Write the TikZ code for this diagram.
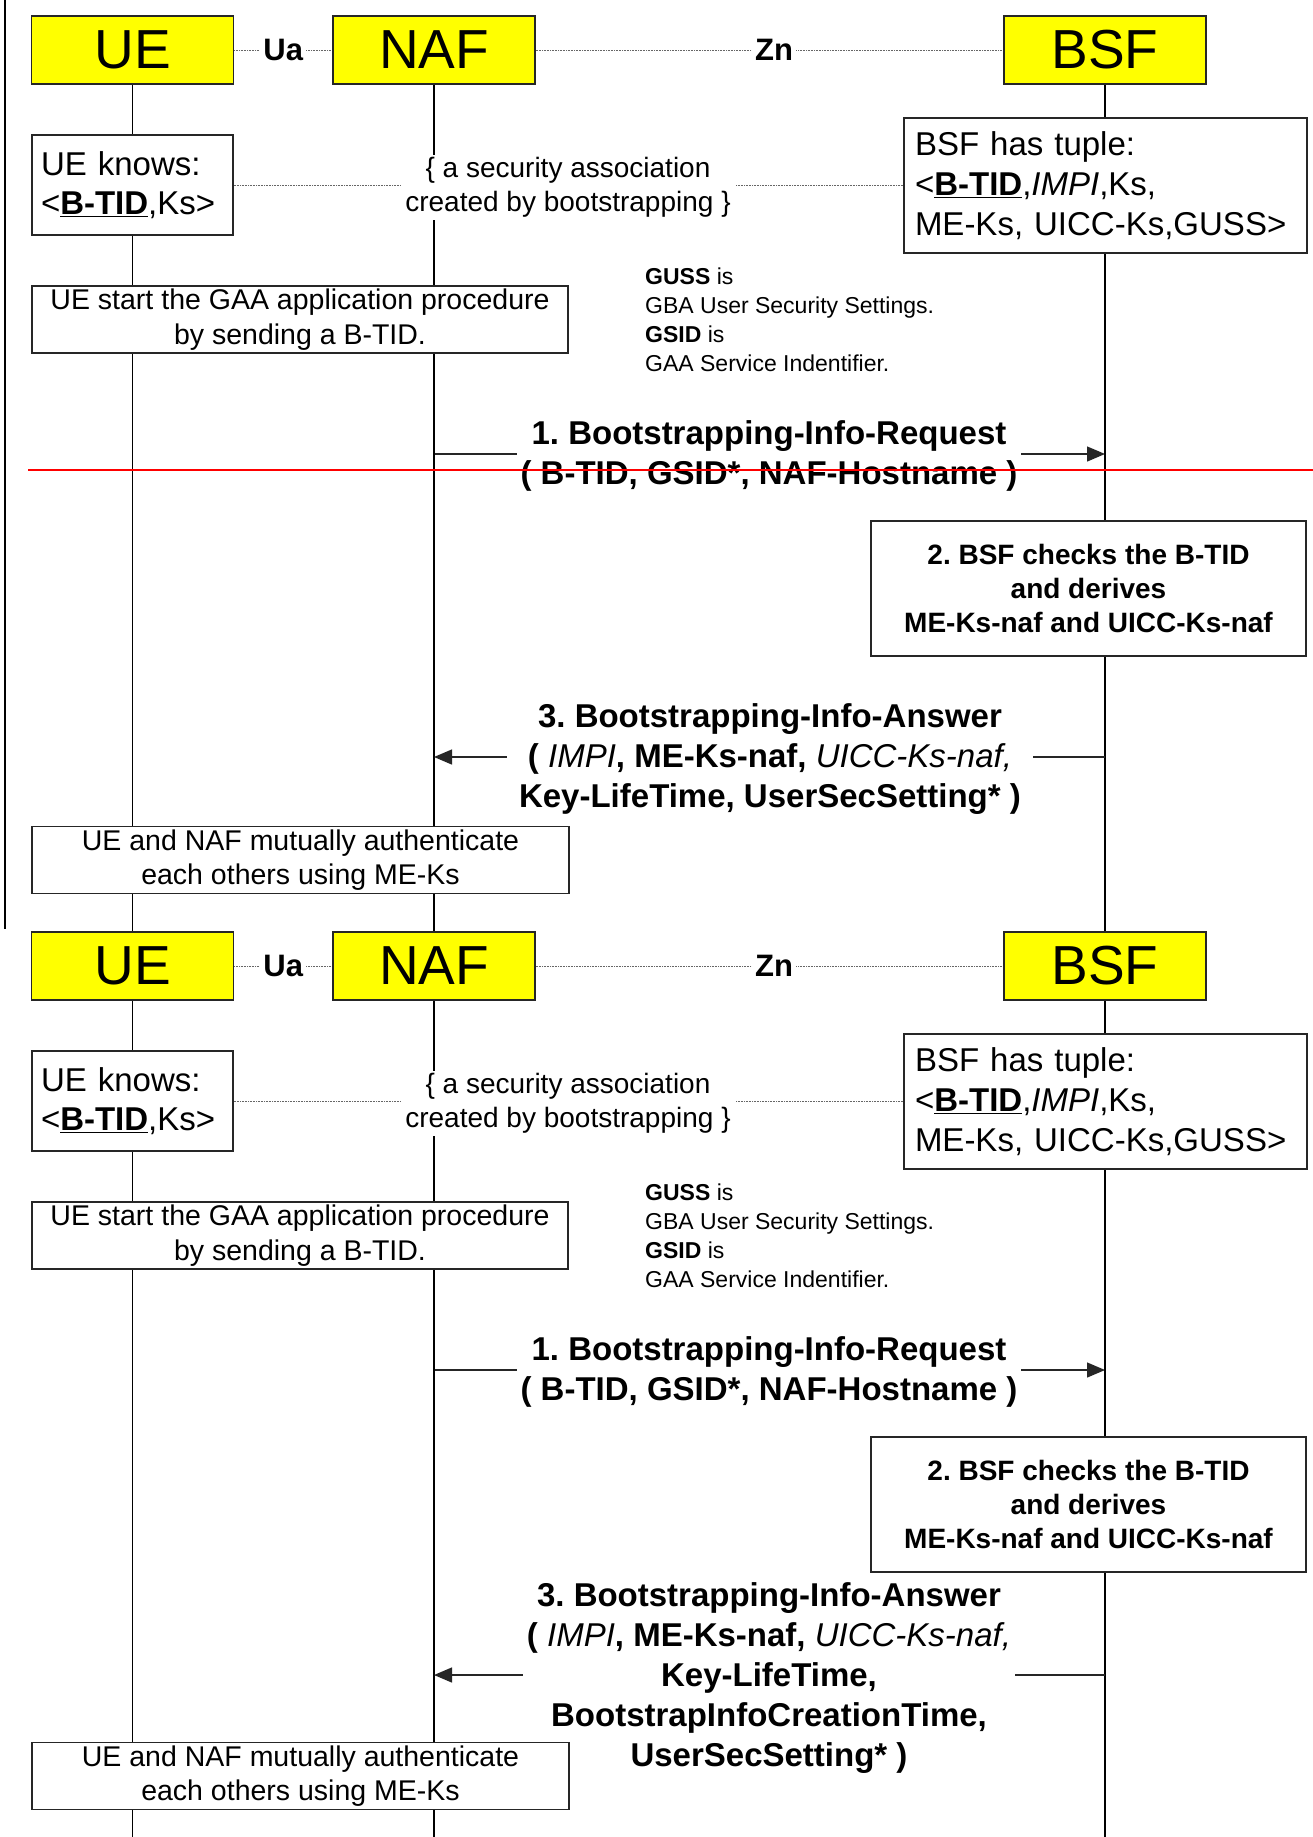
\documentclass[tikz,border=0pt]{standalone}
\usepackage{fontspec}
\setmainfont{Liberation Sans}
\usetikzlibrary{arrows.meta}

\definecolor{actorfill}{RGB}{255,255,0}
\definecolor{cutred}{RGB}{255,0,0}

\pgfdeclarelayer{paper}
\pgfdeclarelayer{wires}
\pgfsetlayers{paper,wires,main}

\newcommand\fs[2]{\fontsize{#1}{#2}\selectfont}

\tikzset{
  actor/.style={draw=black!85, line width=1.3pt, fill=actorfill,
    minimum width=202pt, minimum height=68pt, inner sep=0pt, font=\fs{55}{60}},
  lifeline/.style={line width=1.5pt, black},
  iface/.style={line width=0.9pt, black!60, dash pattern=on 1pt off 0.6pt},
  iflabel/.style={fill=white, text=black, inner xsep=3pt, inner ysep=0pt, font=\fs{31}{36}\bfseries},
  infobox/.style={draw=black!85, line width=1.3pt, fill=white, inner sep=0pt},
  msg/.style={line width=1.3pt, black!85, -{Triangle[length=18pt,width=15pt]}},
  msglabel/.style={fill=white, inner ysep=2pt, align=center, font=\fs{33}{40}\bfseries},
}

% common part of one bootstrapping-usage flow; #1 is the name suffix
\newcommand\gbaflow[1]{%
  \node[actor] (ue#1) at (132.5,50) {UE};
  \node[actor] (naf#1) at (434,50) {NAF};
  \node[actor] (bsf#1) at (1105,50) {BSF};
  \node[infobox, minimum width=201pt, minimum height=100pt, text width=183pt,
        align=left, font=\fs{33}{39}] (know#1) at (132.5,185)
       {UE knows:\\<\underline{\textbf{B-TID}},Ks>};
  \node[infobox, minimum width=403pt, minimum height=135pt, text width=381pt,
        align=left, font=\fs{33}{40}] (tuple#1) at (1105.5,185.5)
       {BSF has tuple:\\<\underline{\textbf{B-TID}},\textit{IMPI},Ks,\\ME-Ks, UICC-Ks,GUSS>};
  \node[fill=white, inner xsep=4pt, inner ysep=2pt, align=center, font=\fs{28}{34}]
       (sa#1) at (568,187.5) {\{ a security association\\created by bootstrapping \}};
  \node[infobox, minimum width=536pt, minimum height=67pt, align=center,
        font=\fs{28.5}{35}] (start#1) at (300,319.5)
       {UE start the GAA application procedure\\by sending a B-TID.};
  \node[anchor=west, inner sep=0pt, align=left, font=\fs{23}{29}] (note#1) at (645,319.5)
       {\textbf{GUSS} is\\GBA User Security Settings.\\\textbf{GSID} is\\GAA Service Indentifier.};
  \node[msglabel, inner xsep=4pt] (req#1) at (769,456)
       {1. Bootstrapping-Info-Request\\( B-TID, GSID*, NAF-Hostname )};
  \node[infobox, minimum width=435pt, minimum height=135pt, align=center,
        font=\fs{28}{34}\bfseries] (chk#1) at (1088.5,588.5)
       {2. BSF checks the B-TID\\and derives\\ME-Ks-naf and UICC-Ks-naf};
  \begin{pgfonlayer}{wires}
    \draw[iface] (ue#1) -- (naf#1) node[iflabel, midway] (ua#1) {Ua};
    \draw[iface] (naf#1) -- (bsf#1) node[iflabel, pos=0.51] (zn#1) {Zn};
    \draw[iface] (know#1.east) -- (know#1.east -| tuple#1.west);
    \draw[msg] (naf#1 |- 0,454) -- (bsf#1 |- 0,454);
  \end{pgfonlayer}
}

% closing box of a flow, set after the answer so its frame stays whole
\newcommand\authbox[1]{%
  \node[infobox, minimum width=537pt, minimum height=67pt, align=center,
        font=\fs{28.5}{34}] (auth#1) at (300.5,860)
       {UE and NAF mutually authenticate\\each others using ME-Ks};
}

\frenchspacing
\begin{document}
\begin{tikzpicture}[x=1pt, y=-1pt]
\useasboundingbox (0,0) rectangle (1313,1837);
\begin{pgfonlayer}{paper}
  \fill[white] (0,0) rectangle (1313,1837);
\end{pgfonlayer}

% first flow
\gbaflow{1}
\node[msglabel, inner xsep=12pt] (ans1) at (770,759.5)
     {3. Bootstrapping-Info-Answer\\( \textit{\mdseries IMPI}, ME-Ks-naf, \textit{\mdseries UICC-Ks-naf,}\\Key-LifeTime, UserSecSetting* )};
\authbox{1}

% second flow, one page-height further down
\begin{scope}[yshift=-916pt]
  \gbaflow{2}
  \node[msglabel, inner xsep=4pt] (ans2) at (769,762.5)
       {3. Bootstrapping-Info-Answer\\( \textit{\mdseries IMPI}, ME-Ks-naf, \textit{\mdseries UICC-Ks-naf,}\\Key-LifeTime,\\BootstrapInfoCreationTime,\\UserSecSetting* )};
  \authbox{2}
\end{scope}

\coordinate (bottom) at (0,1837);
\coordinate (bartop) at (5,0);
\coordinate (barend) at (5,929);
\coordinate (cutL) at (28,470);
\coordinate (cutR) at (1313,470);

\begin{pgfonlayer}{wires}
  \draw[lifeline] (ue1) -- (ue2);
  \draw[lifeline] (naf1) -- (naf2);
  \draw[lifeline] (bsf1) -- (bsf2);
  \draw[lifeline] (ue2) -- (ue2 |- bottom);
  \draw[lifeline] (naf2) -- (naf2 |- bottom);
  \draw[lifeline] (bsf2) -- (bsf2 |- bottom);
  \draw[msg] (bsf1 |- 0,757) -- (naf1 |- 0,757);
  \draw[msg] (bsf2 |- 0,1675) -- (naf2 |- 0,1675);
\end{pgfonlayer}

% page margin rule and cut marker
\draw[line width=2pt] (bartop) -- (barend);
\draw[cutred, line width=2pt] (cutL) -- (cutR);
\end{tikzpicture}
\end{document}
